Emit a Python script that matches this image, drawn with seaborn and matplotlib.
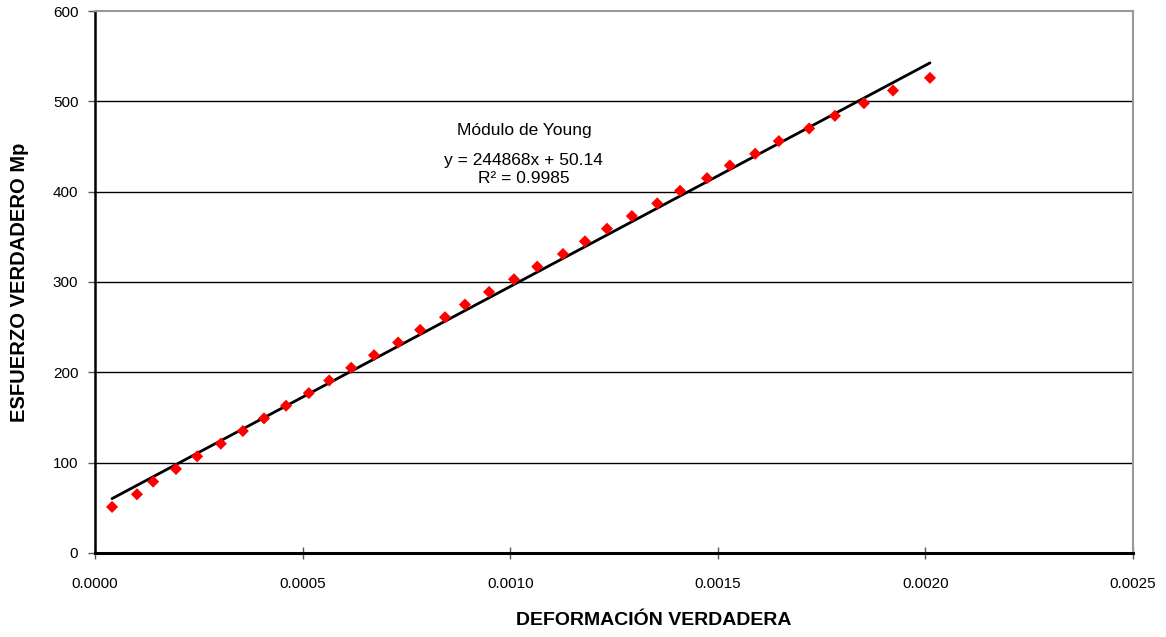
import matplotlib
matplotlib.use("Agg")
import matplotlib.pyplot as plt
import seaborn as sns
import pandas as pd
import numpy as np

# Deformación verdadera vs esfuerzo verdadero (zona elástica)
deformacion = [0.000041, 0.000101, 0.000140, 0.000195, 0.000246, 0.000303,
               0.000356, 0.000407, 0.000460, 0.000515, 0.000564, 0.000617,
               0.000672, 0.000730, 0.000783, 0.000843, 0.000891, 0.000949,
               0.001009, 0.001065, 0.001127, 0.001180, 0.001233, 0.001293,
               0.001354, 0.001409, 0.001474, 0.001529, 0.001590, 0.001647,
               0.001720, 0.001782, 0.001852, 0.001922, 0.002011]
esfuerzo = [51, 65, 79, 93, 107, 121, 135, 149, 163, 177, 191, 205, 219, 233,
            247, 261, 275, 289, 303, 317, 331, 345, 359, 373, 387, 401, 415,
            429, 442, 456, 470, 484, 498, 512, 526]

# Línea de tendencia (ajuste lineal)
pendiente = 244868
intercepto = 50.14
r2 = 0.9985

x_ticks = [0.0000, 0.0005, 0.0010, 0.0015, 0.0020, 0.0025]
y_ticks = [0, 100, 200, 300, 400, 500, 600]

df = pd.DataFrame({"deformacion": deformacion, "esfuerzo": esfuerzo})

sns.set_theme(style="white")
plt.rcParams["font.family"] = ["Liberation Sans", "DejaVu Sans"]
plt.rcParams["text.color"] = "black"
plt.rcParams["axes.labelcolor"] = "black"
plt.rcParams["xtick.labelcolor"] = "black"
plt.rcParams["ytick.labelcolor"] = "black"

fig = plt.figure(figsize=(11.66, 6.37), dpi=100)
ax = fig.add_axes([0.0815, 0.1319, 0.8902, 0.8508])

xs = np.array([min(deformacion), max(deformacion)])
tend = pd.DataFrame({"x": xs, "y": pendiente * xs + intercepto})
sns.lineplot(data=tend, x="x", y="y", ax=ax, color="black", linewidth=2.0,
             zorder=2)
sns.scatterplot(data=df, x="deformacion", y="esfuerzo", ax=ax, marker="D",
                color="#ff0000", s=38, edgecolor="none", zorder=3)

ax.set_xlim(0, 0.0025)
ax.set_ylim(0, 600)
ax.set_xticks(x_ticks)
ax.set_xticklabels([f"{t:.4f}" for t in x_ticks])
ax.set_yticks(y_ticks)
ax.set_yticklabels([str(t) for t in y_ticks])

for y in y_ticks[1:-1]:
    ax.axhline(y, color="black", linewidth=1.0, zorder=1)

for side in ["top", "right"]:
    ax.spines[side].set_color("#999999")
    ax.spines[side].set_linewidth(1.5)
ax.spines["left"].set_color("black")
ax.spines["left"].set_linewidth(1.8)
ax.spines["bottom"].set_color("black")
ax.spines["bottom"].set_linewidth(2.2)

ax.tick_params(axis="y", direction="out", length=5, width=1, color="#555555",
               labelsize=11, labelcolor="black", pad=7, left=True)
ax.tick_params(axis="x", direction="inout", length=8, width=1, color="#555555",
               labelsize=11, labelcolor="black", pad=13, bottom=True)

ax.set_xlabel("DEFORMACIÓN VERDADERA", fontsize=14, fontweight="bold",
              color="black")
ax.xaxis.set_label_coords(0.5385, -0.1255)
ax.xaxis.label.set_va("center")
ax.set_ylabel("ESFUERZO VERDADERO Mp", fontsize=14.5, fontweight="bold",
              color="black")
ax.yaxis.set_label_coords(-0.0725, 0.5)
ax.yaxis.label.set_va("center")

ax.text(0.001033, 468, "Módulo de Young", ha="center", va="center",
        fontsize=12.5, color="black")
ax.text(0.001033, 435, f"y = {pendiente}x + {intercepto}", ha="center",
        va="center", fontsize=12.5, color="black")
ax.text(0.001033, 415, f"R² = {r2}", ha="center", va="center", fontsize=12.5,
        color="black")

fig.savefig("out.png", dpi=100)
